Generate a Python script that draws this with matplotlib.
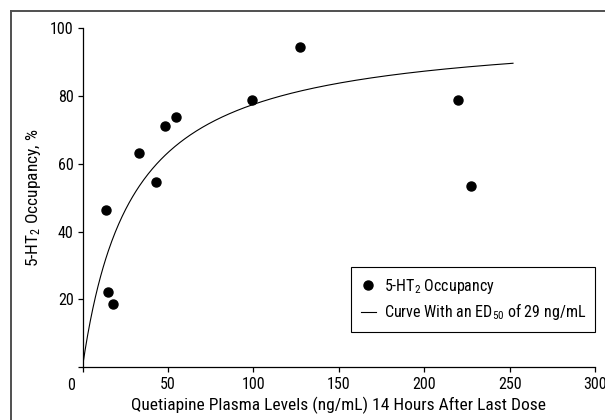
import numpy as np
import matplotlib
matplotlib.use("Agg")
import matplotlib.pyplot as plt
from matplotlib import font_manager
from matplotlib.lines import Line2D

# values
plasma = [13.5, 14.9, 17.8, 33.2, 43.3, 48.3, 54.6, 99.1, 127.1, 219.9, 227.3]
occupancy = [46.4, 22.0, 18.5, 63.1, 54.5, 71.2, 73.7, 78.9, 94.6, 78.7, 53.5]

ED50 = 29.0      # ng/mL, stated in the legend
EMAX = 100.0     # %
curve_end = 252.0

xticks = [50, 100, 150, 200, 250, 300]
yticks = [20, 40, 60, 80, 100]

# narrow sans, like the journal's condensed Helvetica
installed = {f.name for f in font_manager.fontManager.ttflist}
wanted = ['Liberation Sans Narrow', 'Arial Narrow', 'Nimbus Sans Narrow', 'Roboto Condensed',
          'Archivo Narrow', 'DejaVu Sans Condensed']
family = [n for n in wanted if n in installed][:1] + ['DejaVu Sans']
plt.rcParams['font.family'] = family
plt.rcParams['mathtext.default'] = 'regular'

fs = 11.5       # ticks, legend
fs_label = 12.5  # axis titles

fig = plt.figure(figsize=(6.05, 4.2), dpi=100)
ax = fig.add_axes([82.5 / 605, 53 / 420, (595 - 82.5) / 605, (367 - 28.3) / 420])

# outer frame of the figure panel (left and top edges only show)
fx, fy = 10.7 / 605, 1 - 10.7 / 420
fig.lines.append(Line2D([fx, fx], [0, fy], transform=fig.transFigure, color='#505050', linewidth=1.4))
fig.lines.append(Line2D([fx, 1], [fy, fy], transform=fig.transFigure, color='#505050', linewidth=1.4))

conc = np.linspace(0, curve_end, 500)
fit = EMAX * conc / (ED50 + conc)

ax.plot(plasma, occupancy, 'o', color='black', markersize=6.5, label='5-HT$_2$ Occupancy')
ax.plot(conc, fit, color='black', linewidth=0.8, label='Curve With an ED$_{50}$ of 29 ng/mL')

ax.set_xlim(0, 300)
ax.set_ylim(0, 100)
ax.set_xticks([0] + xticks)
ax.set_xticklabels([''] + [str(t) for t in xticks])
ax.set_yticks([0] + yticks)
ax.set_yticklabels([''] + [str(t) for t in yticks])
ax.annotate('0', xy=(0, 0), xycoords='data', xytext=(-11.5, -18), textcoords='offset pixels',
            ha='center', va='center', fontsize=fs)

for side in ['top', 'right']:
    ax.spines[side].set_visible(False)
for side in ['left', 'bottom']:
    ax.spines[side].set_linewidth(0.9)
ax.tick_params(direction='out', length=3.3, width=0.9, labelsize=fs)
ax.tick_params(axis='x', pad=4)
ax.tick_params(axis='y', pad=3)

ax.set_xlabel('Quetiapine Plasma Levels (ng/mL) 14 Hours After Last Dose', fontsize=fs_label, labelpad=3)
ax.set_ylabel('5-HT$_2$ Occupancy, %', fontsize=fs_label, labelpad=5)

leg = ax.legend(loc='upper left', bbox_to_anchor=(351 / 605, (420 - 267) / 420),
                bbox_transform=fig.transFigure, fancybox=False, edgecolor='black',
                framealpha=1, fontsize=fs, handlelength=0.95, handletextpad=0.5,
                borderpad=0.6, labelspacing=0.35, borderaxespad=0)
leg.get_frame().set_linewidth(0.8)

fig.savefig('out.png', dpi=100)
